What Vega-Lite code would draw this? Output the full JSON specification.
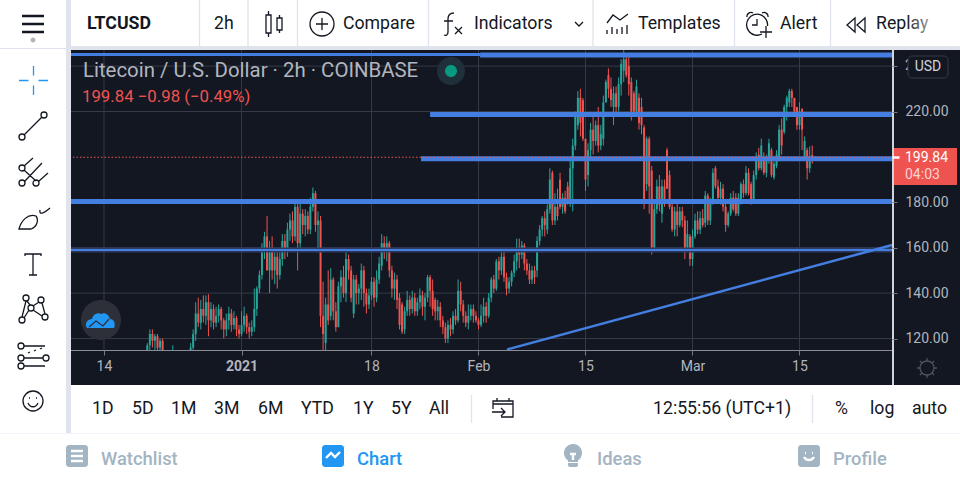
{"$schema":"https://vega.github.io/schema/vega-lite/v6.json","description":"LTCUSD 2h candles with drawn levels, in the TradingView mobile frame","width":960,"height":480,"padding":0,"autosize":{"type":"none"},"background":"#131722",
"config":{"view":{"stroke":null},"font":"Roboto","text":{"font":"Roboto"}},
"datasets":{
"bars":[
{"t":"2020-12-19T16:00","o":112,"h":118,"l":108,"c":117},{"t":"2020-12-20T00:00","o":117,"h":124,"l":115,"c":122},{"t":"2020-12-20T08:00","o":122,"h":124,"l":116,"c":119},{"t":"2020-12-20T16:00","o":119,"h":122,"l":115,"c":121},{"t":"2020-12-21T00:00","o":121,"h":122,"l":113,"c":116},{"t":"2020-12-21T08:00","o":116,"h":120,"l":112,"c":119},{"t":"2020-12-21T16:00","o":119,"h":120,"l":111,"c":114},{"t":"2020-12-23T00:00","o":112,"h":117,"l":110,"c":114},
{"t":"2020-12-25T08:00","o":113,"h":118,"l":111,"c":116},{"t":"2020-12-25T16:00","o":116,"h":124,"l":115,"c":122},{"t":"2020-12-26T00:00","o":122,"h":136,"l":119,"c":131},{"t":"2020-12-26T08:00","o":131,"h":138,"l":125,"c":127},{"t":"2020-12-26T16:00","o":127,"h":137,"l":124,"c":133},{"t":"2020-12-27T00:00","o":133,"h":139,"l":127,"c":130},{"t":"2020-12-27T08:00","o":130,"h":139,"l":126,"c":136},{"t":"2020-12-27T16:00","o":136,"h":139.5,"l":121,"c":128},{"t":"2020-12-28T00:00","o":128,"h":136,"l":125,"c":133},{"t":"2020-12-28T08:00","o":133,"h":135,"l":124,"c":127},{"t":"2020-12-28T16:00","o":127,"h":134,"l":125,"c":130},{"t":"2020-12-29T00:00","o":130,"h":135,"l":127,"c":133},{"t":"2020-12-29T08:00","o":133,"h":134,"l":124,"c":128},{"t":"2020-12-29T16:00","o":128,"h":129,"l":120,"c":124},{"t":"2020-12-30T00:00","o":124,"h":131,"l":121,"c":128},{"t":"2020-12-30T08:00","o":128,"h":134,"l":124,"c":131},{"t":"2020-12-30T16:00","o":131,"h":133,"l":123,"c":126},{"t":"2020-12-31T00:00","o":126,"h":132,"l":124,"c":129},{"t":"2020-12-31T08:00","o":129,"h":130,"l":121,"c":124},{"t":"2020-12-31T16:00","o":124,"h":126,"l":120,"c":122},
{"t":"2021-01-01T00:00","o":122,"h":132,"l":121,"c":126},{"t":"2021-01-01T08:00","o":126,"h":134,"l":123,"c":130},{"t":"2021-01-01T16:00","o":130,"h":131,"l":122,"c":125},{"t":"2021-01-02T00:00","o":125,"h":127,"l":120,"c":123},{"t":"2021-01-02T08:00","o":123,"h":128,"l":121,"c":125},{"t":"2021-01-02T16:00","o":125,"h":142,"l":123,"c":133},{"t":"2021-01-03T00:00","o":133,"h":143,"l":130,"c":142},{"t":"2021-01-03T08:00","o":142,"h":150,"l":140,"c":148},{"t":"2021-01-03T16:00","o":148,"h":162,"l":146,"c":160},{"t":"2021-01-04T00:00","o":160,"h":167,"l":155,"c":165},{"t":"2021-01-04T08:00","o":165,"h":174,"l":150,"c":150},{"t":"2021-01-04T16:00","o":150,"h":163,"l":140,"c":160},{"t":"2021-01-05T00:00","o":160,"h":165,"l":146,"c":150},{"t":"2021-01-05T08:00","o":150,"h":158,"l":144,"c":156},{"t":"2021-01-05T16:00","o":156,"h":158,"l":142,"c":148},{"t":"2021-01-06T00:00","o":148,"h":158,"l":146,"c":155},{"t":"2021-01-06T08:00","o":155,"h":166,"l":152,"c":163},{"t":"2021-01-06T16:00","o":163,"h":166,"l":155,"c":158},{"t":"2021-01-07T00:00","o":158,"h":171,"l":156,"c":168},{"t":"2021-01-07T08:00","o":168,"h":175,"l":163,"c":172},{"t":"2021-01-07T16:00","o":172,"h":176,"l":162,"c":165},{"t":"2021-01-08T00:00","o":165,"h":181,"l":163,"c":178},{"t":"2021-01-08T08:00","o":178,"h":180,"l":150,"c":162},{"t":"2021-01-08T16:00","o":162,"h":179.5,"l":160,"c":175},{"t":"2021-01-09T00:00","o":175,"h":177,"l":166,"c":170},{"t":"2021-01-09T08:00","o":170,"h":177,"l":165,"c":174},{"t":"2021-01-09T16:00","o":174,"h":176,"l":166,"c":168},{"t":"2021-01-10T00:00","o":168,"h":182,"l":166,"c":178},{"t":"2021-01-10T08:00","o":178,"h":186.5,"l":176,"c":184},{"t":"2021-01-10T16:00","o":184,"h":185,"l":167,"c":170},{"t":"2021-01-11T00:00","o":170,"h":176,"l":158,"c":172},{"t":"2021-01-11T08:00","o":172,"h":174,"l":125,"c":130},{"t":"2021-01-11T16:00","o":130,"h":145,"l":115,"c":122},{"t":"2021-01-12T00:00","o":118,"h":138,"l":114,"c":135},{"t":"2021-01-12T08:00","o":135,"h":150,"l":126,"c":128},{"t":"2021-01-12T16:00","o":130,"h":151,"l":128,"c":146},{"t":"2021-01-13T00:00","o":146,"h":147,"l":128,"c":132},{"t":"2021-01-13T08:00","o":132,"h":136,"l":123,"c":125},{"t":"2021-01-13T16:00","o":125,"h":145,"l":125,"c":143},{"t":"2021-01-14T00:00","o":143,"h":150,"l":136,"c":147},{"t":"2021-01-14T08:00","o":147,"h":152,"l":138,"c":140},{"t":"2021-01-14T16:00","o":140,"h":158,"l":136,"c":155},{"t":"2021-01-15T00:00","o":155,"h":157,"l":146,"c":150},{"t":"2021-01-15T08:00","o":150,"h":152,"l":136,"c":138},{"t":"2021-01-15T16:00","o":131,"h":148,"l":129,"c":146},{"t":"2021-01-16T00:00","o":146,"h":148,"l":135,"c":140},{"t":"2021-01-16T08:00","o":140,"h":144,"l":135,"c":142},{"t":"2021-01-16T16:00","o":142,"h":153,"l":137,"c":150},{"t":"2021-01-17T00:00","o":150,"h":152,"l":134,"c":140},{"t":"2021-01-17T08:00","o":140,"h":142,"l":131,"c":135},{"t":"2021-01-17T16:00","o":135,"h":142,"l":133,"c":139},{"t":"2021-01-18T00:00","o":139,"h":147,"l":137,"c":145},{"t":"2021-01-18T08:00","o":145,"h":147,"l":134,"c":138},{"t":"2021-01-18T16:00","o":138,"h":150,"l":136,"c":146},{"t":"2021-01-19T00:00","o":146,"h":156,"l":144,"c":153},{"t":"2021-01-19T08:00","o":152,"h":166,"l":150,"c":162},{"t":"2021-01-19T16:00","o":162,"h":165,"l":155,"c":158},{"t":"2021-01-20T00:00","o":158,"h":165,"l":154,"c":162},{"t":"2021-01-20T08:00","o":162,"h":163,"l":147,"c":150},{"t":"2021-01-20T16:00","o":150,"h":152,"l":138,"c":142},{"t":"2021-01-21T00:00","o":142,"h":149,"l":137,"c":146},{"t":"2021-01-21T08:00","o":146,"h":148,"l":133,"c":137},{"t":"2021-01-21T16:00","o":138,"h":140,"l":124,"c":126},{"t":"2021-01-22T00:00","o":135,"h":136,"l":122,"c":123},{"t":"2021-01-22T08:00","o":124,"h":134,"l":122,"c":132},{"t":"2021-01-22T16:00","o":132,"h":141,"l":130,"c":137},{"t":"2021-01-23T00:00","o":137,"h":139,"l":130,"c":133},{"t":"2021-01-23T08:00","o":133,"h":141,"l":131,"c":138},{"t":"2021-01-23T16:00","o":138,"h":140,"l":130,"c":132},{"t":"2021-01-24T00:00","o":132,"h":138,"l":130,"c":136},{"t":"2021-01-24T08:00","o":136,"h":142,"l":133,"c":139},{"t":"2021-01-24T16:00","o":139,"h":141,"l":130,"c":134},{"t":"2021-01-25T00:00","o":134,"h":140,"l":128,"c":138},{"t":"2021-01-25T08:00","o":138,"h":148,"l":136,"c":147},{"t":"2021-01-25T16:00","o":147,"h":148,"l":134,"c":141},{"t":"2021-01-26T00:00","o":141,"h":146,"l":130,"c":133},{"t":"2021-01-26T08:00","o":137,"h":138,"l":128,"c":132},{"t":"2021-01-26T16:00","o":132,"h":137,"l":128,"c":134},{"t":"2021-01-27T00:00","o":134,"h":136,"l":125,"c":128},{"t":"2021-01-27T08:00","o":128,"h":130,"l":122,"c":125},{"t":"2021-01-27T16:00","o":125,"h":127,"l":118,"c":120},{"t":"2021-01-28T00:00","o":120,"h":128,"l":118,"c":126},{"t":"2021-01-28T08:00","o":126,"h":129,"l":121,"c":124},{"t":"2021-01-28T16:00","o":124,"h":132,"l":122,"c":130},{"t":"2021-01-29T00:00","o":130,"h":133,"l":126,"c":128},{"t":"2021-01-29T08:00","o":128,"h":146,"l":127,"c":141},{"t":"2021-01-29T16:00","o":141,"h":145,"l":132,"c":135},{"t":"2021-01-30T00:00","o":135,"h":137,"l":127,"c":130},{"t":"2021-01-30T08:00","o":130,"h":132,"l":125,"c":127},{"t":"2021-01-30T16:00","o":127,"h":135,"l":124,"c":130},{"t":"2021-01-31T00:00","o":130,"h":135,"l":128,"c":133},{"t":"2021-01-31T08:00","o":133,"h":135,"l":127,"c":130},{"t":"2021-01-31T16:00","o":130,"h":132,"l":127,"c":128},
{"t":"2021-02-01T00:00","o":128,"h":129,"l":124,"c":126},{"t":"2021-02-01T08:00","o":126,"h":135,"l":125,"c":130},{"t":"2021-02-01T16:00","o":130,"h":138,"l":127,"c":134},{"t":"2021-02-02T00:00","o":134,"h":136,"l":127,"c":130},{"t":"2021-02-02T08:00","o":130,"h":140,"l":129,"c":138},{"t":"2021-02-02T16:00","o":138,"h":147,"l":136,"c":146},{"t":"2021-02-03T00:00","o":146,"h":148,"l":140,"c":142},{"t":"2021-02-03T08:00","o":142,"h":155,"l":141,"c":154},{"t":"2021-02-03T16:00","o":154,"h":156,"l":146,"c":150},{"t":"2021-02-04T00:00","o":150,"h":158,"l":148,"c":156},{"t":"2021-02-04T08:00","o":156,"h":159,"l":145,"c":147},{"t":"2021-02-04T16:00","o":147,"h":149,"l":139,"c":142},{"t":"2021-02-05T00:00","o":142,"h":147,"l":140,"c":145},{"t":"2021-02-05T08:00","o":145,"h":150,"l":143,"c":149},{"t":"2021-02-05T16:00","o":149,"h":157,"l":147,"c":154},{"t":"2021-02-06T00:00","o":154,"h":164,"l":150,"c":160},{"t":"2021-02-06T08:00","o":160,"h":164,"l":151,"c":157},{"t":"2021-02-06T16:00","o":157,"h":163,"l":155,"c":161},{"t":"2021-02-07T00:00","o":161,"h":162,"l":150,"c":153},{"t":"2021-02-07T08:00","o":153,"h":155,"l":148,"c":150},{"t":"2021-02-07T16:00","o":150,"h":153,"l":144,"c":146},{"t":"2021-02-08T00:00","o":146,"h":152,"l":144,"c":150},{"t":"2021-02-08T08:00","o":150,"h":152,"l":144,"c":147},{"t":"2021-02-08T16:00","o":150,"h":165,"l":147,"c":163},{"t":"2021-02-09T00:00","o":163,"h":170,"l":161,"c":168},{"t":"2021-02-09T08:00","o":168,"h":174,"l":165,"c":173},{"t":"2021-02-09T16:00","o":173,"h":176,"l":165,"c":170},{"t":"2021-02-10T00:00","o":168,"h":179,"l":166,"c":177},{"t":"2021-02-10T08:00","o":177,"h":195,"l":175,"c":190},{"t":"2021-02-10T16:00","o":193,"h":194,"l":170,"c":172},{"t":"2021-02-11T00:00","o":172,"h":184,"l":170,"c":178},{"t":"2021-02-11T08:00","o":178,"h":186,"l":172,"c":174},{"t":"2021-02-11T16:00","o":190,"h":193,"l":177,"c":178},{"t":"2021-02-12T00:00","o":178,"h":184,"l":175,"c":182},{"t":"2021-02-12T08:00","o":182,"h":185,"l":175,"c":176},{"t":"2021-02-12T16:00","o":187,"h":189,"l":179,"c":180},{"t":"2021-02-13T00:00","o":180,"h":199,"l":178,"c":195},{"t":"2021-02-13T08:00","o":195,"h":208,"l":176,"c":205},{"t":"2021-02-13T16:00","o":205,"h":220,"l":203,"c":218},{"t":"2021-02-14T00:00","o":214,"h":229,"l":212,"c":226},{"t":"2021-02-14T08:00","o":226,"h":230,"l":209,"c":215},{"t":"2021-02-14T16:00","o":225,"h":226,"l":207,"c":208},{"t":"2021-02-15T00:00","o":208,"h":208,"l":185,"c":190},{"t":"2021-02-15T08:00","o":192,"h":206,"l":187,"c":203},{"t":"2021-02-15T16:00","o":203,"h":215,"l":200,"c":212},{"t":"2021-02-16T00:00","o":212,"h":219,"l":201,"c":207},{"t":"2021-02-16T08:00","o":207,"h":216,"l":205,"c":214},{"t":"2021-02-16T16:00","o":214,"h":222,"l":202,"c":205},{"t":"2021-02-17T00:00","o":205,"h":214,"l":203,"c":210},{"t":"2021-02-17T08:00","o":208,"h":227,"l":205,"c":224},{"t":"2021-02-17T16:00","o":224,"h":234,"l":224,"c":233},{"t":"2021-02-18T00:00","o":236,"h":239,"l":226,"c":230},{"t":"2021-02-18T08:00","o":230,"h":235,"l":222,"c":225},{"t":"2021-02-18T16:00","o":222,"h":231,"l":214,"c":228},{"t":"2021-02-19T00:00","o":228,"h":231,"l":218,"c":222},{"t":"2021-02-19T08:00","o":222,"h":235,"l":220,"c":232},{"t":"2021-02-19T16:00","o":232,"h":243,"l":227,"c":241},{"t":"2021-02-20T00:00","o":238,"h":247,"l":233,"c":243},{"t":"2021-02-20T08:00","o":243,"h":245,"l":235,"c":236},{"t":"2021-02-20T16:00","o":240,"h":244,"l":227,"c":232},{"t":"2021-02-21T00:00","o":233,"h":235,"l":216,"c":220},{"t":"2021-02-21T08:00","o":228,"h":229,"l":219,"c":220},{"t":"2021-02-21T16:00","o":220,"h":234,"l":219,"c":231},{"t":"2021-02-22T00:00","o":226,"h":228,"l":212,"c":215},{"t":"2021-02-22T08:00","o":222,"h":226,"l":210,"c":214},{"t":"2021-02-22T16:00","o":213,"h":214,"l":177,"c":180},{"t":"2021-02-23T00:00","o":188,"h":209,"l":185,"c":208},{"t":"2021-02-23T08:00","o":208,"h":209,"l":175,"c":187},{"t":"2021-02-23T16:00","o":194,"h":196,"l":157,"c":160},{"t":"2021-02-24T00:00","o":160,"h":180,"l":159,"c":177},{"t":"2021-02-24T08:00","o":177,"h":190,"l":175,"c":187},{"t":"2021-02-24T16:00","o":187,"h":192,"l":176,"c":179},{"t":"2021-02-25T00:00","o":175,"h":190,"l":171,"c":187},{"t":"2021-02-25T08:00","o":187,"h":190,"l":178,"c":180},{"t":"2021-02-25T16:00","o":203,"h":204,"l":186,"c":186},{"t":"2021-02-26T00:00","o":192,"h":194,"l":177,"c":178},{"t":"2021-02-26T08:00","o":178,"h":180,"l":167,"c":168},{"t":"2021-02-26T16:00","o":168,"h":178,"l":165,"c":176},{"t":"2021-02-27T00:00","o":176,"h":181,"l":165,"c":170},{"t":"2021-02-27T08:00","o":170,"h":178,"l":169,"c":176},{"t":"2021-02-27T16:00","o":176,"h":178,"l":169,"c":172},{"t":"2021-02-28T00:00","o":172,"h":174,"l":155,"c":160},{"t":"2021-02-28T08:00","o":160,"h":172,"l":158,"c":166},{"t":"2021-02-28T16:00","o":165,"h":166,"l":152,"c":155},
{"t":"2021-03-01T00:00","o":155,"h":168,"l":152,"c":165},{"t":"2021-03-01T08:00","o":165,"h":175,"l":164,"c":172},{"t":"2021-03-01T16:00","o":172,"h":176,"l":166,"c":168},{"t":"2021-03-02T00:00","o":168,"h":176,"l":166,"c":173},{"t":"2021-03-02T08:00","o":173,"h":177,"l":169,"c":170},{"t":"2021-03-02T16:00","o":171,"h":185,"l":169,"c":183},{"t":"2021-03-03T00:00","o":183,"h":184,"l":170,"c":172},{"t":"2021-03-03T08:00","o":172,"h":182,"l":170,"c":180},{"t":"2021-03-03T16:00","o":180,"h":195,"l":179,"c":193},{"t":"2021-03-04T00:00","o":195,"h":196,"l":186,"c":187},{"t":"2021-03-04T08:00","o":187,"h":190,"l":181,"c":182},{"t":"2021-03-04T16:00","o":182,"h":189,"l":179,"c":186},{"t":"2021-03-05T00:00","o":186,"h":188,"l":176,"c":178},{"t":"2021-03-05T08:00","o":178,"h":181,"l":167,"c":170},{"t":"2021-03-05T16:00","o":170,"h":176,"l":169,"c":175},{"t":"2021-03-06T00:00","o":175,"h":184,"l":174,"c":182},{"t":"2021-03-06T08:00","o":182,"h":185,"l":176,"c":177},{"t":"2021-03-06T16:00","o":182,"h":184,"l":174,"c":175},{"t":"2021-03-07T00:00","o":175,"h":184,"l":174,"c":182},{"t":"2021-03-07T08:00","o":180,"h":189,"l":179,"c":188},{"t":"2021-03-07T16:00","o":188,"h":190,"l":182,"c":184},{"t":"2021-03-08T00:00","o":184,"h":196,"l":183,"c":193},{"t":"2021-03-08T08:00","o":193,"h":195,"l":183,"c":184},{"t":"2021-03-08T16:00","o":188,"h":189,"l":179,"c":181},{"t":"2021-03-09T00:00","o":181,"h":194,"l":180,"c":192},{"t":"2021-03-09T08:00","o":192,"h":202,"l":190,"c":200},{"t":"2021-03-09T16:00","o":201,"h":204,"l":194,"c":195},{"t":"2021-03-10T00:00","o":195,"h":208,"l":194,"c":205},{"t":"2021-03-10T08:00","o":200,"h":202,"l":192,"c":193},{"t":"2021-03-10T16:00","o":193,"h":201,"l":191,"c":199},{"t":"2021-03-11T00:00","o":199,"h":208,"l":197,"c":206},{"t":"2021-03-11T08:00","o":203,"h":204,"l":191,"c":192},{"t":"2021-03-11T16:00","o":191,"h":198,"l":190,"c":197},{"t":"2021-03-12T00:00","o":196,"h":203,"l":195,"c":201},{"t":"2021-03-12T08:00","o":199,"h":214,"l":198,"c":212},{"t":"2021-03-12T16:00","o":212,"h":217,"l":201,"c":205},{"t":"2021-03-13T00:00","o":211,"h":223,"l":210,"c":222},{"t":"2021-03-13T08:00","o":222,"h":227,"l":216,"c":226},{"t":"2021-03-13T16:00","o":224,"h":230,"l":222,"c":229},{"t":"2021-03-14T00:00","o":229,"h":230,"l":222,"c":226},{"t":"2021-03-14T08:00","o":226,"h":226,"l":219,"c":220},{"t":"2021-03-14T16:00","o":222,"h":222,"l":212,"c":214},{"t":"2021-03-15T00:00","o":214,"h":224,"l":212,"c":220},{"t":"2021-03-15T08:00","o":221,"h":221.5,"l":203,"c":212},{"t":"2021-03-15T16:00","o":200,"h":209,"l":199,"c":207},{"t":"2021-03-16T00:00","o":203,"h":204,"l":190,"c":195},{"t":"2021-03-16T08:00","o":195,"h":204.6,"l":193,"c":200},{"t":"2021-03-16T16:00","o":200.82,"h":205,"l":197,"c":199.84}
],
"gridTimes":[{"t":"2020-12-14T00:00"},{"t":"2021-01-01T00:00"},{"t":"2021-01-18T00:00"},{"t":"2021-02-01T00:00"},{"t":"2021-02-15T00:00"},{"t":"2021-03-01T00:00"},{"t":"2021-03-15T00:00"}],
"gridPrices":[{"price":120},{"price":140},{"price":160},{"price":180},{"price":220},{"price":240}],
"levels":[
{"level":"top right","from":"2021-02-01T05:00","to":"2021-03-27T03:00","price":244.9,"weight":"thick"},
{"level":"top left","from":"2020-12-09T16:00","to":"2021-02-01T05:00","price":245.1,"weight":"medium"},
{"level":"220 band","from":"2021-01-25T16:00","to":"2021-03-27T03:00","price":218.7,"weight":"thick"},
{"level":"200 band","from":"2021-01-24T11:30","to":"2021-03-27T03:00","price":199.2,"weight":"thick"},
{"level":"180 band","from":"2020-12-09T16:00","to":"2021-03-27T03:00","price":180.35,"weight":"thick"},
{"level":"160 band","from":"2020-12-09T16:00","to":"2021-03-27T03:00","price":159,"weight":"thin"}
],
"trend":[{"from":"2021-02-04T17:30","to":"2021-03-27T03:00","price":115.15,"price2":161.2}],
"last":[{"price":199.84}],
"panels":[
{"panel":"top bar","l":0,"r":6,"t":0,"b":1,"tone":"page"},
{"panel":"top rule","l":2,"r":6,"t":1,"b":4,"tone":"rule"},
{"panel":"left tools","l":0,"r":1,"t":1,"b":10,"tone":"page"},
{"panel":"left top rule","l":0,"r":1,"t":2,"b":3,"tone":"rule"},
{"panel":"left edge","l":1,"r":2,"t":0,"b":10,"tone":"rule"},
{"panel":"bottom bar","l":2,"r":6,"t":9,"b":10,"tone":"page"},
{"panel":"tabs","l":0,"r":6,"t":11,"b":12,"tone":"page"},
{"panel":"tabs rule","l":0,"r":6,"t":10,"b":11,"tone":"faint"},
{"panel":"price strip","l":3,"r":6,"t":4,"b":9,"tone":"ink"},
{"panel":"time strip","l":2,"r":3,"t":7,"b":9,"tone":"ink"},
{"panel":"time edge","l":2,"r":3,"t":7,"b":8,"tone":"edge"},
{"panel":"price edge","l":3,"r":4,"t":4,"b":9,"tone":"edgelight"},
{"panel":"last price tag","l":4,"r":5,"t":5,"b":6,"tone":"tag"}
],
"icons":[
{"icon":"menu","slot":0,"tone":"ink","paint":"heavy"},{"icon":"candles","slot":1,"tone":"ink","paint":"stroke"},{"icon":"compare","slot":2,"tone":"ink","paint":"stroke"},{"icon":"fx","slot":3,"tone":"ink","paint":"stroke"},{"icon":"chevron","slot":4,"tone":"ink","paint":"stroke"},{"icon":"templates","slot":5,"tone":"ink","paint":"stroke"},{"icon":"alert","slot":6,"tone":"ink","paint":"stroke"},{"icon":"replay","slot":7,"tone":"ink","paint":"stroke"},{"icon":"line","slot":8,"tone":"ink","paint":"stroke"},{"icon":"fork","slot":9,"tone":"ink","paint":"stroke"},{"icon":"brush","slot":10,"tone":"ink","paint":"stroke"},{"icon":"type","slot":11,"tone":"ink","paint":"stroke"},{"icon":"nodes","slot":12,"tone":"ink","paint":"stroke"},{"icon":"fib","slot":13,"tone":"ink","paint":"stroke"},{"icon":"smile","slot":14,"tone":"ink","paint":"stroke"},{"icon":"calendar","slot":15,"tone":"ink","paint":"stroke"},
{"icon":"crosshair","slot":16,"tone":"sky","paint":"stroke"},{"icon":"sun","slot":17,"tone":"dim","paint":"stroke"},{"icon":"cloudline","slot":18,"tone":"disc","paint":"stroke"},{"icon":"watchlines","slot":19,"tone":"white","paint":"heavy"},{"icon":"zigzag","slot":20,"tone":"white","paint":"heavy"},{"icon":"wick","slot":21,"tone":"white","paint":"heavy"},{"icon":"face","slot":22,"tone":"white","paint":"heavy"},
{"icon":"tall","slot":23,"tone":"rule","paint":"stroke"},{"icon":"tall","slot":24,"tone":"rule","paint":"stroke"},{"icon":"tall","slot":25,"tone":"rule","paint":"stroke"},{"icon":"tall","slot":26,"tone":"rule","paint":"stroke"},{"icon":"tall","slot":27,"tone":"rule","paint":"stroke"},{"icon":"tall","slot":28,"tone":"rule","paint":"stroke"},{"icon":"tall","slot":29,"tone":"rule","paint":"stroke"},{"icon":"short","slot":30,"tone":"rule","paint":"stroke"},{"icon":"short","slot":31,"tone":"rule","paint":"stroke"},
{"icon":"menudot","slot":32,"tone":"dim2","paint":"fill"},{"icon":"disc","slot":33,"tone":"disc","paint":"fill"},{"icon":"cloud","slot":34,"tone":"sky","paint":"fill"},{"icon":"halo","slot":35,"tone":"halo","paint":"fill"},{"icon":"live","slot":36,"tone":"teal","paint":"fill"},{"icon":"square","slot":37,"tone":"pale","paint":"fill"},{"icon":"square","slot":38,"tone":"sky","paint":"fill"},{"icon":"bulb","slot":39,"tone":"pale","paint":"fill"},{"icon":"square","slot":40,"tone":"pale","paint":"fill"},{"icon":"tick","slot":41,"tone":"white","paint":"heavy"}
],
"labels":[
{"label":"LTCUSD","slot":0,"kind":"bold"},{"label":"2h","slot":1,"kind":"tool"},{"label":"Compare","slot":2,"kind":"tool"},{"label":"Indicators","slot":3,"kind":"tool"},{"label":"Templates","slot":4,"kind":"tool"},{"label":"Alert","slot":5,"kind":"tool"},{"label":"Replay","slot":6,"kind":"tool"},
{"label":"1D","slot":7,"kind":"tool"},{"label":"5D","slot":8,"kind":"tool"},{"label":"1M","slot":9,"kind":"tool"},{"label":"3M","slot":10,"kind":"tool"},{"label":"6M","slot":11,"kind":"tool"},{"label":"YTD","slot":12,"kind":"tool"},{"label":"1Y","slot":13,"kind":"tool"},{"label":"5Y","slot":14,"kind":"tool"},{"label":"All","slot":15,"kind":"tool"},{"label":"12:55:56 (UTC+1)","slot":16,"kind":"tool"},{"label":"%","slot":17,"kind":"tool"},{"label":"log","slot":18,"kind":"tool"},{"label":"auto","slot":19,"kind":"tool"},
{"label":"Watchlist","slot":20,"kind":"tab"},{"label":"Chart","slot":21,"kind":"tabon"},{"label":"Ideas","slot":22,"kind":"tab"},{"label":"Profile","slot":23,"kind":"tab"},
{"label":"Litecoin / U.S. Dollar · 2h · COINBASE","slot":24,"kind":"legend"},{"label":"199.84 −0.98 (−0.49%)","slot":25,"kind":"quote"},
{"label":"240.00","slot":26,"kind":"axis"},{"label":"199.84","slot":27,"kind":"tagprice"},{"label":"04:03","slot":28,"kind":"tagtime"},{"label":"USD","slot":29,"kind":"badge"},{"label":"fade","slot":30,"kind":"fade"}
]
},
"resolve":{"scale":{"x":"independent","y":"independent","color":"independent","shape":"independent"}},
"layer":[
{"layer":[
{"data":{"name":"gridTimes"},"mark":{"type":"rule","strokeWidth":1,"color":"#363a45"},"encoding":{"x":{"field":"t","type":"temporal","axis":null,"scale":{"domain":[{"year":2020,"month":11,"date":30,"hours":9,"minutes":26},{"year":2021,"month":4,"date":5}],"nice":false}}}},
{"data":{"name":"gridPrices"},"mark":{"type":"rule","strokeWidth":1,"color":"#363a45"},"encoding":{"y":{"field":"price","type":"quantitative","axis":null,"scale":{"domain":[57.67,269.12],"nice":false,"zero":false}}}}
]},
{"data":{"name":"bars"},"mark":{"type":"rule","strokeWidth":1},"encoding":{
"x":{"field":"t","type":"temporal","scale":{"domain":[{"year":2020,"month":11,"date":30,"hours":9,"minutes":26},{"year":2021,"month":4,"date":5}],"nice":false},
"axis":{"orient":"bottom","offset":-130,"title":null,"zindex":1,"domain":false,"grid":false,"tickColor":"#787b86","tickSize":5,"labelPadding":4,"labelColor":"#b2b5be","labelFontSize":14,"labelFont":"Roboto","labelFlush":false,"labelOverlap":false,"values":[{"year":2020,"month":12,"date":14},{"year":2021,"month":1,"date":1},{"year":2021,"month":1,"date":18},{"year":2021,"month":2,"date":1},{"year":2021,"month":2,"date":15},{"year":2021,"month":3,"date":1},{"year":2021,"month":3,"date":15}],"labelExpr":"timeFormat(datum.value,'%m-%d')=='01-01'?'2021':timeFormat(datum.value,'%d')=='01'?timeFormat(datum.value,'%b'):timeFormat(datum.value,'%-d')","labelFontWeight":{"condition":{"test":"timeFormat(datum.value,'%m-%d')=='01-01'","value":"bold"},"value":"normal"}}},
"y":{"field":"l","type":"quantitative","scale":{"domain":[57.67,269.12],"nice":false,"zero":false},
"axis":{"orient":"right","offset":-68,"title":null,"zindex":1,"domain":false,"grid":false,"tickColor":"#787b86","tickSize":5,"labelPadding":8,"labelColor":"#b2b5be","labelFontSize":14,"labelFont":"Roboto","values":[120,140,160,180,220,240],"labelExpr":"datum.value==240?'':format(datum.value,'.2f')"}},
"y2":{"field":"h"},
"color":{"condition":{"test":"datum.o<=datum.c","value":"#26a69a"},"value":"#ef5350"}}},
{"layer":[
{"data":{"name":"bars"},"mark":{"type":"bar","width":2},"encoding":{"x":{"field":"t","type":"temporal","axis":null,"scale":{"domain":[{"year":2020,"month":11,"date":30,"hours":9,"minutes":26},{"year":2021,"month":4,"date":5}],"nice":false,"padding":0}},"y":{"field":"o","type":"quantitative","axis":null,"scale":{"domain":[57.67,269.12],"nice":false,"zero":false}},"y2":{"field":"c"},"color":{"condition":{"test":"datum.o<=datum.c","value":"#26a69a"},"value":"#ef5350"}}},
{"data":{"name":"levels"},"transform":[{"filter":"datum.weight=='thin'"}],"mark":{"type":"rule","strokeWidth":5,"color":"#2c3a5e"},"encoding":{"x":{"field":"from","type":"temporal","axis":null},"x2":{"field":"to"},"y":{"field":"price","type":"quantitative","axis":null}}},
{"data":{"name":"levels"},"transform":[{"filter":"datum.weight=='thin'"}],"mark":{"type":"rule","strokeWidth":2,"color":"#447ee0"},"encoding":{"x":{"field":"from","type":"temporal","axis":null},"x2":{"field":"to"},"y":{"field":"price","type":"quantitative","axis":null}}},
{"data":{"name":"levels"},"transform":[{"filter":"datum.weight=='medium'"}],"mark":{"type":"rule","strokeWidth":3,"color":"#447ee0"},"encoding":{"x":{"field":"from","type":"temporal","axis":null},"x2":{"field":"to"},"y":{"field":"price","type":"quantitative","axis":null}}},
{"data":{"name":"levels"},"transform":[{"filter":"datum.weight=='thick'"}],"mark":{"type":"rule","strokeWidth":5,"color":"#447ee0"},"encoding":{"x":{"field":"from","type":"temporal","axis":null},"x2":{"field":"to"},"y":{"field":"price","type":"quantitative","axis":null}}},
{"data":{"name":"trend"},"mark":{"type":"rule","strokeWidth":2.5,"color":"#447ee0"},"encoding":{"x":{"field":"from","type":"temporal","axis":null},"x2":{"field":"to"},"y":{"field":"price","type":"quantitative","axis":null},"y2":{"field":"price2"}}},
{"data":{"name":"last"},"mark":{"type":"rule","strokeWidth":1,"color":"#f2564f","strokeDash":[1.5,2]},"encoding":{"y":{"field":"price","type":"quantitative","axis":null}}}
]},
{"data":{"name":"panels"},"mark":{"type":"rect"},"encoding":{
"x":{"field":"l","type":"quantitative","axis":null,"scale":{"domain":[0,1,2,3,4,5,6],"range":[0,66,71,892,894,957,960],"nice":false,"zero":false}},"x2":{"field":"r"},
"y":{"field":"t","type":"quantitative","axis":null,"scale":{"domain":[0,1,2,3,4,5,6,7,8,9,10,11,12],"range":[0,46,48,49,50,148,185,350,351,385,433,434,480],"nice":false,"zero":false}},"y2":{"field":"b"},
"color":{"field":"tone","type":"nominal","legend":null,"scale":{"domain":["page","rule","faint","ink","edge","edgelight","tag"],"range":["#ffffff","#e0e3eb","#f0f3fa","#131722","#8a8d96","#d1d4dc","#ef5350"]}}}},
{"data":{"name":"icons"},"encoding":{
"x":{"field":"slot","type":"quantitative","axis":null,"scale":{"domain":[0,1,2,3,4,5,6,7,8,9,10,11,12,13,14,15,16,17,18,19,20,21,22,23,24,25,26,27,28,29,30,31,32,33,34,35,36,37,38,39,40,41],"range":[33,274,322,454,579,618,758,857,33,33,34,33,33,33,33,503,33.5,927,100,77,333,573,809,199.5,248,297.5,428.5,593,734.5,830.5,471.5,812.5,33,101,100,451,451,77,333,573,809,896],"nice":false,"zero":false}},
"y":{"field":"slot","type":"quantitative","axis":null,"scale":{"domain":[0,1,2,3,4,5,6,7,8,9,10,11,12,13,14,15,16,17,18,19,20,21,22,23,24,25,26,27,28,29,30,31,32,33,34,35,36,37,38,39,40,41],"range":[24,24,24,24,24,24,24,25,126,171,219,264,309,356,401,408,80.5,368,320,456,456,456,456,23,23,23,23,23,23,23,409,409,40,320,320,71,71,456,456,456,456,157.5],"nice":false,"zero":false}},
"shape":{"field":"icon","type":"nominal","legend":null,"scale":{"domain":["menu","candles","compare","fx","chevron","templates","alert","replay","line","fork","brush","type","nodes","fib","smile","calendar","crosshair","sun","cloudline","watchlines","zigzag","wick","face","tall","short","menudot","disc","cloud","halo","live","square","bulb","tick"],"range":[
"M-11 -8H11M-11 0H11M-11 8H11",
"M-8 -9H-3V9H-8ZM-5.5 -13V-9M-5.5 9V13M3 -6H8V6H3ZM5.5 -9V-6M5.5 6V9",
"M-12 0A12 12 0 1 1 12 0A12 12 0 1 1 -12 0M-6 0H6M0 -6V6",
"M0 -11C-4 -11 -6 -9 -6 -5V8C-6 11 -8 12 -10 11M-10 -3H-1M1 3L8 10M8 3L1 10",
"M-4 -2L0 2L4 -2",
"M-11 -1L-5 -9L2 -4L10 -10M-11 6V10M-6 3V10M-1 5V10M4 3V10M9 1V10",
"M4 10A10.5 10.5 0 1 1 9.5 2M-1 -5V1H-6M-11 -7A4 4 0 0 1 -5 -11M4 -11A4 4 0 0 1 10 -7M2 8H14M8 2V14",
"M-2 -7L-10 0L-2 7ZM8 -7L0 0L8 7Z",
"M-8.5 8.5L8.5 -8.5M-14 11A3 3 0 1 0 -8 11A3 3 0 1 0 -14 11M8 -11A3 3 0 1 0 14 -11A3 3 0 1 0 8 -11",
"M-14 -3A3 3 0 1 0 -8 -3A3 3 0 1 0 -14 -3M-14 12A3 3 0 1 0 -8 12A3 3 0 1 0 -14 12M0 12A3 3 0 1 0 6 12A3 3 0 1 0 0 12M-9 -5L0 -13M-9 -1L3 10M-8 10L9 -8M6 10L15 2",
"M-15 10C-13 2 -6 -6 2 -3C5 1 3 8 -3 10ZM6 -9C5 -4 9 -5 16 -11",
"M-8 -8V-10H8V-8M0 -10V11M-4 11H4",
"M-10 -11A3 3 0 1 0 -4 -11A3 3 0 1 0 -10 -11M5 -9A3 3 0 1 0 11 -9A3 3 0 1 0 5 -9M-5 -1A3 3 0 1 0 1 -1A3 3 0 1 0 -5 -1M-14 11A3 3 0 1 0 -8 11A3 3 0 1 0 -14 11M9 8A3 3 0 1 0 15 8A3 3 0 1 0 9 8M-7 -8L-11 8M-6 -8L-3 -4M6 -7L0 -3M0 1L9 7M9 -6L12 5M-4 1L-9 9",
"M-9 -10H12M-15 -10A3 3 0 1 0 -9 -10A3 3 0 1 0 -15 -10M-9 2H10M-15 2A3 3 0 1 0 -9 2A3 3 0 1 0 -15 2M10 2A3 3 0 1 0 16 2A3 3 0 1 0 10 2M-9 10H12M-15 10A3 3 0 1 0 -9 10A3 3 0 1 0 -15 10M-5 -3L-3 -4M1 -5L3 -6M7 -7L9 -8",
"M-10 0A10 10 0 1 0 10 0A10 10 0 1 0 -10 0M-5 2C-3 7 3 7 5 2M-4 -3H-3M3 -3H4",
"M-10 -4H10M-10 1V-7H10V9H-2M-6 -10V-7M6 -10V-7M-11 4H2M-2 0L2 4L-2 8",
"M-14.5 0H-5M5 0H14.5M0 -14.5V-5M0 5V14.5",
"M-7 0A7 7 0 1 0 7 0A7 7 0 1 0 -7 0M0 -10V-7M0 7V10M-10 0H-7M7 0H10M-7 -7L-5 -5M5 5L7 7M-7 7L-5 5M5 -5L7 -7",
"M-11 7L-4 1L3 6L9 -1",
"M-6 -5H6M-6 0H6M-6 5H6",
"M-7 2L-2 -3L2 1L7 -4",
"M-3 -2H3M0 -2V4",
"M-4 -3H-3M3 -3H4M-5 1C-3 5 3 5 5 1",
"M0 -23V23",
"M0 -14V14",
"M-2.5 0A2.5 2.5 0 1 0 2.5 0A2.5 2.5 0 1 0 -2.5 0Z",
"M-20 0A20 20 0 1 0 20 0A20 20 0 1 0 -20 0Z",
"M-13 8C-16 3 -12 -1 -8 -1C-7 -6 -2 -8 1 -6C5 -8 9 -5 10 -1C14 -1 16 4 14 8Z",
"M-14 0A14 14 0 1 0 14 0A14 14 0 1 0 -14 0Z",
"M-6 0A6 6 0 1 0 6 0A6 6 0 1 0 -6 0Z",
"M-8 -11H8A3 3 0 0 1 11 -8V8A3 3 0 0 1 8 11H-8A3 3 0 0 1 -11 8V-8A3 3 0 0 1 -8 -11Z",
"M-9 -3A9 9 0 1 1 5 4.5V6H-5V4.5A9 9 0 0 1 -9 -3ZM-5 7H5V9A2 2 0 0 1 3 11H-3A2 2 0 0 1 -5 9Z",
"M-3.5 0H3.5"]}},
"color":{"field":"tone","type":"nominal","legend":null,"scale":{"domain":["ink","sky","dim","disc","white","rule","dim2","halo","teal","pale"],"range":["#131722","#2196f3","#50535e","#2e3039","#ffffff","#e0e3eb","#b2b5be","#20303a","#089981","#a3b4c2"]}}},
"layer":[
{"transform":[{"filter":"datum.paint=='fill'"}],"mark":{"type":"point","filled":true,"opacity":1,"size":4}},
{"transform":[{"filter":"datum.paint=='stroke'"}],"mark":{"type":"point","filled":false,"opacity":1,"size":4,"strokeWidth":1.3}},
{"transform":[{"filter":"datum.paint=='heavy'"}],"mark":{"type":"point","filled":false,"opacity":1,"size":4,"strokeWidth":2.4}}
]},
{"data":{"name":"labels"},"encoding":{
"x":{"field":"slot","type":"quantitative","axis":null,"scale":{"domain":[0,1,2,3,4,5,6,7,8,9,10,11,12,13,14,15,16,17,18,19,20,21,22,23,24,25,26,27,28,29,30],"range":[87,214,343,474,638,780,876,92,132,171,214,258,301,353,391,429,653,835,870,912,101,357,597,833,83,82,905,905,905,928,921],"nice":false,"zero":false}},
"y":{"field":"slot","type":"quantitative","axis":null,"scale":{"domain":[0,1,2,3,4,5,6,7,8,9,10,11,12,13,14,15,16,17,18,19,20,21,22,23,24,25,26,27,28,29,30],"range":[24,24,24,24,24,24,24,409,409,409,409,409,409,409,409,409,409,409,409,409,459,459,459,459,71,97,66,158,175,67,24],"nice":false,"zero":false}}},
"layer":[
{"transform":[{"filter":"datum.kind=='axis'"}],"mark":{"type":"text","align":"left","baseline":"middle","fontSize":14,"color":"#b2b5be"},"encoding":{"text":{"field":"label"}}},
{"transform":[{"filter":"datum.kind=='badge'"}],"mark":{"type":"point","shape":"M-16 -11H16A4 4 0 0 1 20 -7V7A4 4 0 0 1 16 11H-16A4 4 0 0 1 -20 7V-7A4 4 0 0 1 -16 -11Z","size":4,"filled":true,"opacity":1,"fill":"#131722","stroke":"#363a45","strokeWidth":1}},
{"transform":[{"filter":"datum.kind=='badge'"}],"mark":{"type":"text","align":"center","baseline":"middle","fontSize":14,"color":"#d1d4dc"},"encoding":{"text":{"field":"label"}}},
{"transform":[{"filter":"datum.kind=='bold'"}],"mark":{"type":"text","align":"left","baseline":"middle","fontSize":17.7,"fontWeight":"bold","color":"#131722"},"encoding":{"text":{"field":"label"}}},
{"transform":[{"filter":"datum.kind=='tool'"}],"mark":{"type":"text","align":"left","baseline":"middle","fontSize":17.7,"color":"#131722"},"encoding":{"text":{"field":"label"}}},
{"transform":[{"filter":"datum.kind=='tab'"}],"mark":{"type":"text","align":"left","baseline":"middle","fontSize":18.4,"fontWeight":500,"color":"#a3b4c2"},"encoding":{"text":{"field":"label"}}},
{"transform":[{"filter":"datum.kind=='tabon'"}],"mark":{"type":"text","align":"left","baseline":"middle","fontSize":18.4,"fontWeight":500,"color":"#2196f3"},"encoding":{"text":{"field":"label"}}},
{"transform":[{"filter":"datum.kind=='legend'"}],"mark":{"type":"text","align":"left","baseline":"middle","fontSize":20.4,"color":"#b2b5be"},"encoding":{"text":{"field":"label"}}},
{"transform":[{"filter":"datum.kind=='quote'"}],"mark":{"type":"text","align":"left","baseline":"middle","fontSize":16.8,"color":"#ef5350"},"encoding":{"text":{"field":"label"}}},
{"transform":[{"filter":"datum.kind=='tagprice'"}],"mark":{"type":"text","align":"left","baseline":"middle","fontSize":14,"color":"#ffffff"},"encoding":{"text":{"field":"label"}}},
{"transform":[{"filter":"datum.kind=='tagtime'"}],"mark":{"type":"text","align":"left","baseline":"middle","fontSize":14,"color":"#fbd3d1"},"encoding":{"text":{"field":"label"}}},
{"transform":[{"filter":"datum.kind=='fade'"}],"mark":{"type":"point","shape":"M-15 -12H15V12H-15Z","size":4,"filled":true,"opacity":1,"strokeWidth":0,"fill":{"gradient":"linear","x1":0,"y1":0,"x2":1,"y2":0,"stops":[{"offset":0,"color":"rgba(255,255,255,0)"},{"offset":1,"color":"rgba(255,255,255,0.75)"}]}}}
]}
]}
